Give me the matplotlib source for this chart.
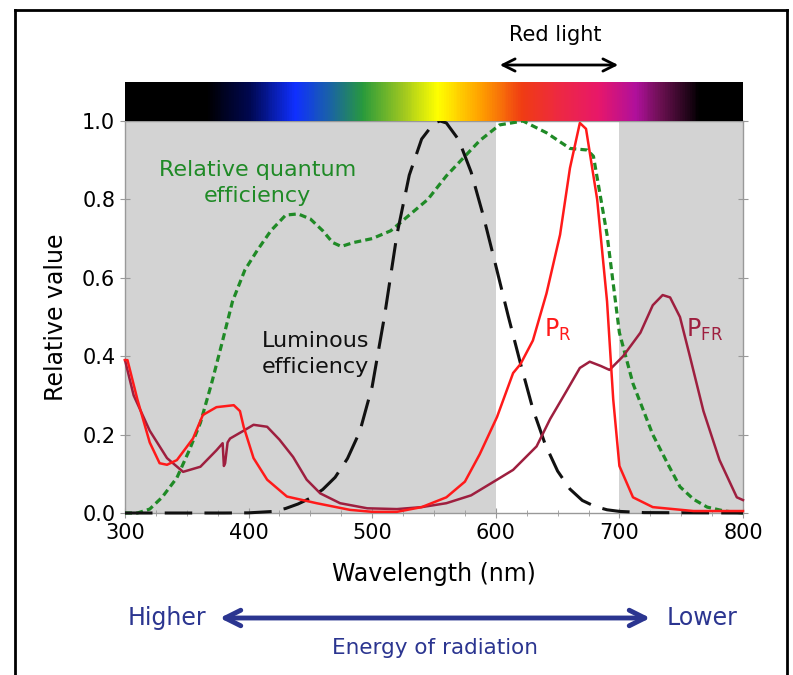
import matplotlib
matplotlib.use('Agg')
import matplotlib.pyplot as plt
import numpy as np
from matplotlib.colors import LinearSegmentedColormap
from matplotlib.lines import Line2D

# Relative quantum efficiency (green dotted)
qe_wl = [300, 310, 320, 330, 342, 352, 361, 370, 379, 387, 397, 407, 418, 430, 440,
         450, 460, 468, 475, 485, 500, 515, 530, 545, 560, 575, 587, 603, 622, 641,
         660, 674, 679, 690, 700, 711, 727, 740, 749, 760, 771, 785, 800]
qe_val = [0.0, 0.0, 0.01, 0.04, 0.09, 0.16, 0.23, 0.33, 0.44, 0.54, 0.62, 0.67, 0.72, 0.76, 0.763,
          0.75, 0.72, 0.69, 0.68, 0.69, 0.70, 0.72, 0.76, 0.80, 0.86, 0.91, 0.95, 0.99, 1.0, 0.97,
          0.93, 0.926, 0.91, 0.71, 0.46, 0.33, 0.20, 0.12, 0.067, 0.035, 0.015, 0.005, 0.0]

# Luminous efficiency (black dashed)
lum_wl = [300, 380, 400, 420, 430, 440, 450, 460, 470, 480, 490, 500, 510, 520, 530, 540,
          550, 555, 560, 570, 580, 590, 600, 610, 620, 630, 640, 650, 660, 670, 680, 690,
          700, 720, 800]
lum_val = [0.0, 0.0, 0.0004, 0.004, 0.0116, 0.023, 0.038, 0.06, 0.091, 0.139, 0.208, 0.323,
           0.503, 0.71, 0.862, 0.954, 0.995, 1.0, 0.995, 0.952, 0.870, 0.757, 0.631, 0.503,
           0.381, 0.265, 0.175, 0.107, 0.061, 0.032, 0.017, 0.0082, 0.0041, 0.001, 0.0]

# P_R absorption (red)
pr_wl = [300, 302, 310, 320, 328, 334, 342, 355, 363, 374, 388, 393, 396, 404, 415, 431,
         455, 482, 500, 520, 540, 560, 575, 587, 601, 614, 620, 630, 641, 652, 660, 668,
         673, 682, 690, 695, 700, 711, 727, 760, 800]
pr_val = [0.39, 0.39, 0.29, 0.18, 0.127, 0.123, 0.135, 0.19, 0.25, 0.27, 0.275, 0.26, 0.22,
          0.14, 0.085, 0.042, 0.025, 0.008, 0.003, 0.003, 0.015, 0.04, 0.08, 0.15, 0.245,
          0.357, 0.38, 0.44, 0.56, 0.71, 0.88, 0.995, 0.98, 0.80, 0.54, 0.29, 0.12, 0.04,
          0.015, 0.005, 0.005]

# P_FR absorption (dark red)
pfr_wl = [300, 307, 320, 334, 347, 361, 374, 379, 380, 381, 383, 385, 396, 404, 415, 425,
          436, 447, 458, 474, 496, 520, 540, 560, 580, 601, 614, 633, 644, 657, 668, 676,
          685, 692, 703, 717, 727, 735, 741, 749, 757, 768, 781, 795, 800]
pfr_val = [0.39, 0.30, 0.21, 0.14, 0.105, 0.118, 0.16, 0.178, 0.12, 0.127, 0.18, 0.19, 0.21,
           0.225, 0.22, 0.187, 0.143, 0.085, 0.05, 0.025, 0.012, 0.01, 0.015, 0.025, 0.045,
           0.085, 0.11, 0.17, 0.24, 0.31, 0.37, 0.386, 0.375, 0.365, 0.40, 0.46, 0.53, 0.556,
           0.55, 0.50, 0.40, 0.26, 0.135, 0.04, 0.033]

# spectrum bar colour stops
spec_wl = [300, 365, 400, 437, 465, 492, 525, 553, 588, 622, 650, 684, 714, 735, 766, 800]
spec_col = ['#000000', '#000000', '#000850', '#1030ff', '#1a62a8', '#289a3c', '#a0c820',
            '#ffff00', '#ffa000', '#f03c14', '#ee2a40', '#e8186a', '#b0109c', '#6a1050',
            '#000000', '#000000']

W, H = 793, 675
fig = plt.figure(figsize=(W / 100, H / 100), dpi=100)

def fx(px):
    return px / W

def fy(py):
    return 1 - py / H

ax = fig.add_axes([fx(125), fy(513), fx(743) - fx(125), fy(121) - fy(513)])

ax.axvspan(300, 600, color='#d3d3d3', lw=0, zorder=0)
ax.axvspan(700, 800, color='#d3d3d3', lw=0, zorder=0)

ax.plot(qe_wl, qe_val, color='#1f8a26', lw=2.3, ls=(0, (2.2, 1.3)), clip_on=False, zorder=3)
ax.plot(lum_wl, lum_val, color='#111111', lw=2.2, ls=(0, (9, 4)), clip_on=False, zorder=3)
ax.plot(pfr_wl, pfr_val, color='#9e1f3f', lw=1.8, clip_on=False, zorder=4)
ax.plot(pr_wl, pr_val, color='#ff1a1a', lw=1.8, clip_on=False, zorder=5)

ax.set_xlim(300, 800)
ax.set_ylim(0, 1.0)
ax.set_xticks(range(300, 801, 100))
ax.set_xticks(range(300, 801, 25), minor=True)
ax.set_yticks([0, 0.2, 0.4, 0.6, 0.8, 1.0])
ax.set_yticklabels(['0.0', '0.2', '0.4', '0.6', '0.8', '1.0'])
ax.tick_params(axis='both', which='both', direction='inout', color='#999999', labelsize=15,
               right=True)
ax.tick_params(which='minor', length=4)
ax.tick_params(which='major', length=7)
for s in ax.spines.values():
    s.set_color('#999999')
    s.set_linewidth(1)

ax.set_ylabel('Relative value', fontsize=17, labelpad=10)
ax.set_xlabel('Wavelength (nm)', fontsize=17, labelpad=14)

ax.text(407, 0.842, 'Relative quantum\nefficiency', color='#1f8a26', fontsize=16,
        ha='center', va='center', linespacing=1.4)
ax.text(454, 0.406, 'Luminous\nefficiency', color='#111111', fontsize=16,
        ha='center', va='center', linespacing=1.4)
ax.text(650, 0.467, r'P$_\mathregular{R}$', color='#ff1a1a', fontsize=17, ha='center', va='center')
ax.text(769, 0.467, r'P$_\mathregular{FR}$', color='#9e1f3f', fontsize=17, ha='center', va='center')

# spectrum bar above the plot
cax = fig.add_axes([fx(125), fy(121), fx(743) - fx(125), fy(82) - fy(121)])
pos = [(w - 300) / 500 for w in spec_wl]
cmap = LinearSegmentedColormap.from_list('spec', list(zip(pos, spec_col)))
cax.imshow(np.linspace(0, 1, 500)[None, :], cmap=cmap, aspect='auto', extent=(300, 800, 0, 1))
cax.set_axis_off()

# red light marker
fig.text(fx(555), fy(35), 'Red light', fontsize=15, ha='center', va='center')
fig.add_artist(matplotlib.patches.FancyArrowPatch((fx(497), fy(65)), (fx(621), fy(65)),
               transform=fig.transFigure, arrowstyle='<->', mutation_scale=22, lw=2, color='black'))

# energy arrow
navy = '#2b3590'
fig.text(fx(167), fy(618), 'Higher', fontsize=17, color=navy, ha='center', va='center')
fig.text(fx(702), fy(618), 'Lower', fontsize=17, color=navy, ha='center', va='center')
fig.add_artist(matplotlib.patches.FancyArrowPatch((fx(217), fy(618)), (fx(653), fy(618)),
               transform=fig.transFigure, arrowstyle='<->', mutation_scale=28, lw=3.5, color=navy))
fig.text(fx(435), fy(648), 'Energy of radiation', fontsize=15.5, color=navy, ha='center', va='center')

# open frame around the figure
for xs, ys in [([fx(15), fx(15)], [0, fy(10)]), ([fx(15), fx(787)], [fy(10), fy(10)]),
               ([fx(787), fx(787)], [fy(10), 0])]:
    fig.add_artist(Line2D(xs, ys, transform=fig.transFigure, color='black', lw=2))

fig.savefig('out.png', dpi=100)
